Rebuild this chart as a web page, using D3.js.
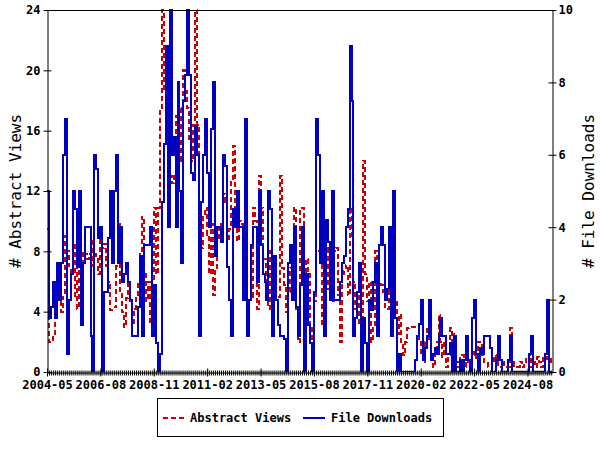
<!DOCTYPE html>
<html><head><meta charset="utf-8">
<script src="https://cdn.jsdelivr.net/npm/d3@7/dist/d3.min.js"></script>
<style>body{margin:0;background:#fff}</style>
</head><body><svg id="c" width="600" height="450"></svg>
<script>
// ---- data (monthly, first month = 2004-05) ----
const startMonth = "2004-05";
const tickLabels = ["2004-05","2006-08","2008-11","2011-02","2013-05","2015-08","2017-11","2020-02","2022-05","2024-08"];
const tickMonths = [0,27,54,81,108,135,162,189,216,243];
const viewsTicks = [0,4,8,12,16,20,24];
const downloadTicks = [0,2,4,6,8,10];
const seriesNames = ["Abstract Views","File Downloads"];

const abstractViews = [
 9.5,2,2,2.5,4.5,5,5.5,4,5,9,
 8,7,5,5,8.4,4.2,10,6.5,8,7.8,
 7.5,7.8,8.7,7,7.8,7.5,6.5,8.9,8.2,8.5,
 7,6,4.1,4.3,4.3,7,9.8,5.3,4,3,
 4.9,6,4.7,3.1,4.2,5,6,8,10.3,6.5,
 4.7,6,3.1,6,10.9,6.5,10.9,17.5,24,18.6,
 17.5,13,13,12.5,13,17,14.6,17.5,14,20,
 18.6,17.5,15.3,14,16.4,24,16.4,9.1,8.2,10.4,
 10.9,9.1,6.5,9.8,5.1,6.9,8.7,9.8,8.7,11.8,
 11.3,8.7,9.5,12.6,15,10.9,8.7,10,9.8,7.8,
 6,8,8,5,10.9,10,4.2,13,10.9,7.5,
 7.5,5.8,4.2,8,6,6,5,5,13,6.9,
 5.8,4,5.3,6.9,6.5,10.9,4.2,2,10.9,10.9,
 6.5,7.5,6.5,3.1,2,4.7,8,8,8,3.1,
 6.7,8.2,5.5,6.5,4.7,8,8.2,5.1,2,6.5,
 6.7,7.1,5.1,10.9,9,6,4.2,5.3,3.1,2,
 14,6.5,4.7,6,2,3,8,6.5,6,5.8,
 5.3,4.2,4.2,6,6.5,5.8,4.7,2.5,3.8,2,
 1.1,2,2.9,3,3,3,3,3,2,1.1,
 0.67,2,3,2,1.1,0.33,1.33,2,3.8,2,
 1,2,0.33,1.1,2.9,2,2.5,0.67,0.33,1,
 1.1,0.33,1,0.67,0.33,1.1,1.33,0.8,2,2,
 1.1,0.67,0.67,0.33,0.33,0.67,1.1,0.67,0.33,0.33,
 0.67,0.33,0.33,0.33,2.9,0.67,0.33,0.33,0.33,0.67,
 0.33,0.67,1,1,1.1,0.33,0.67,0.33,1,0.67,
 0.33,1,0.67,1,1,0.67
];
const fileDownloads = [
 5,1.5,1.8,2.5,1.5,3,2,3,6,7,
 0.5,2,2.7,5,4.5,2.9,5,1.3,3,4,
 4,4,1,0,6,5.6,3.7,4,0,2.2,
 2.2,3.7,5,3,5,6,3,4,2.5,2.7,
 3,2.5,2,1,1,1,1.8,3.2,1,3.5,
 3.5,3.5,4,1,2.4,0.8,0,0.5,4.7,6.3,
 9,4,10,6,6.5,4,8,5,3,7.5,
 8.2,10,8.2,5.5,5.3,6.8,6,1,4.7,6,
 7,5.5,4,6.7,8,3.2,4,4,3.6,6,
 5.7,2.9,2,1,4.5,4,5,4,4,2,
 7,1,2,3.5,4,4,2.5,5,3.5,2.7,
 2.5,2,5,4.5,1,3.2,2,1.3,1,1,
 0.9,0,3,3.5,2,4,1.8,1,2.4,4,
 0,2.7,1.3,0.8,0,2.2,7,6,3,5,
 1,4.2,3.6,2,5,2,2,2,2.5,3,
 3.2,4,4.5,9,7.5,1,1.5,2.2,3,0,
 1.5,0.8,0,2,1.7,2.5,3,1,3.5,4,
 3.5,2,2.3,4,1,5,1.5,0,0.5,0,
 0,0,0,0,0,0,0.33,1,1.33,2,
 0.33,0.67,1,2,0.33,0.5,0.67,0.5,1,1.5,
 1,1,0.5,0.5,0.8,0,1,0,0,0.33,
 0,0.33,1,0.33,0,1.5,2,0.5,0,0.67,
 0.5,1,1,1,0.67,0,0,0.33,1,0.33,
 0,0,0,0.33,1,0,0,0,0,0,
 0,0,0,0,0.5,1,0,0,0,0,
 0,0,0.5,2,0,0
];

// ---- layout ----
const L = 47, R = 552, T = 10, B = 372;
const svg = d3.select("#c");
const font = "'DejaVu Sans Mono', monospace";

const x = d3.scaleLinear().domain([0, 255.4]).range([L, R]);
const yL = d3.scaleLinear().domain([0, 24]).range([B, T]);
const yR = d3.scaleLinear().domain([0, 10]).range([B, T]);

svg.append("defs").append("clipPath").attr("id","clip")
  .append("rect").attr("x",L).attr("y",T-2).attr("width",R-L).attr("height",B-T+2);

function stepPts(arr){
  const p = arr.map((v,i)=>[i,v]);
  p.push([x.domain()[1], arr[arr.length-1]]);
  return p;
}
const lineV = d3.line().x(d=>x(d[0])).y(d=>yL(d[1])).curve(d3.curveStepAfter);
const lineD = d3.line().x(d=>x(d[0])).y(d=>yR(d[1])).curve(d3.curveStepAfter);

const g = svg.append("g").attr("clip-path","url(#clip)");
g.append("path").attr("d", lineV(stepPts(abstractViews)))
  .attr("fill","none").attr("stroke","#cc0000").attr("stroke-width",2)
  .attr("stroke-dasharray","5,3").attr("shape-rendering","crispEdges");
g.append("path").attr("d", lineD(stepPts(fileDownloads)))
  .attr("fill","none").attr("stroke","#0000c0").attr("stroke-width",2)
  .attr("shape-rendering","crispEdges");

// top border
svg.append("line").attr("x1",L).attr("x2",R).attr("y1",T+0.5).attr("y2",T+0.5)
  .attr("stroke","#000").attr("stroke-width",1);

function styleAxis(sel, bold){
  sel.select(".domain").attr("stroke","#000");
  sel.selectAll("text").attr("font-family",font).attr("font-size",12)
    .attr("font-weight", bold ? "bold" : "normal").attr("fill","#000");
  sel.selectAll(".tick line").attr("stroke","#000");
}

// left axis
const axL = svg.append("g").attr("transform",`translate(${L+0.5},0)`)
  .call(d3.axisLeft(yL).tickValues(viewsTicks).tickSize(4).tickPadding(3).tickSizeOuter(0).tickFormat(d3.format("d")));
axL.selectAll(".tick line").attr("x1",4).attr("x2",-4);
styleAxis(axL, true);

// right axis
const axR = svg.append("g").attr("transform",`translate(${R+0.5},0)`)
  .call(d3.axisRight(yR).tickValues(downloadTicks).tickSize(4).tickPadding(2).tickSizeOuter(0).tickFormat(d3.format("d")));
axR.selectAll(".tick line").attr("x1",-4).attr("x2",4);
styleAxis(axR, true);

// bottom minor ticks (monthly)
const axMinor = svg.append("g").attr("transform",`translate(0,${B+0.5})`)
  .call(d3.axisBottom(x).tickValues(d3.range(0, 256)).tickSize(2).tickFormat(()=>"").tickSizeOuter(0));
axMinor.selectAll(".tick line").attr("y1",-2).attr("y2",3).attr("stroke","#000");
axMinor.select(".domain").attr("stroke","#000");

// bottom major ticks
const axB = svg.append("g").attr("transform",`translate(0,${B+0.5})`)
  .call(d3.axisBottom(x).tickValues(tickMonths).tickSize(4).tickPadding(4).tickSizeOuter(0)
    .tickFormat((d,i)=>tickLabels[i]));
axB.selectAll(".tick line").attr("y1",-4).attr("y2",4);
axB.select(".domain").remove();
styleAxis(axB, true);

// axis titles
svg.append("text").attr("transform",`translate(21,${(T+B)/2}) rotate(-90)`)
  .attr("text-anchor","middle").attr("font-family",font).attr("font-size",16)
  .text("# Abstract Views");
svg.append("text").attr("transform",`translate(594,${(T+B)/2}) rotate(-90)`)
  .attr("text-anchor","middle").attr("font-family",font).attr("font-size",16)
  .text("# File Downloads");

// legend
const lg = svg.append("g");
lg.append("rect").attr("x",157.5).attr("y",398.5).attr("width",286).attr("height",38)
  .attr("fill","#fff").attr("stroke","#000");
lg.append("line").attr("x1",163).attr("x2",184).attr("y1",418).attr("y2",418)
  .attr("stroke","#cc0000").attr("stroke-width",2).attr("stroke-dasharray","5,3");
lg.append("text").attr("x",190).attr("y",422).attr("font-family",font).attr("font-size",12)
  .attr("font-weight","bold").text(seriesNames[0]);
lg.append("line").attr("x1",303).attr("x2",325).attr("y1",418).attr("y2",418)
  .attr("stroke","#0000c0").attr("stroke-width",2);
lg.append("text").attr("x",331).attr("y",422).attr("font-family",font).attr("font-size",12)
  .attr("font-weight","bold").text(seriesNames[1]);
</script></body></html>
